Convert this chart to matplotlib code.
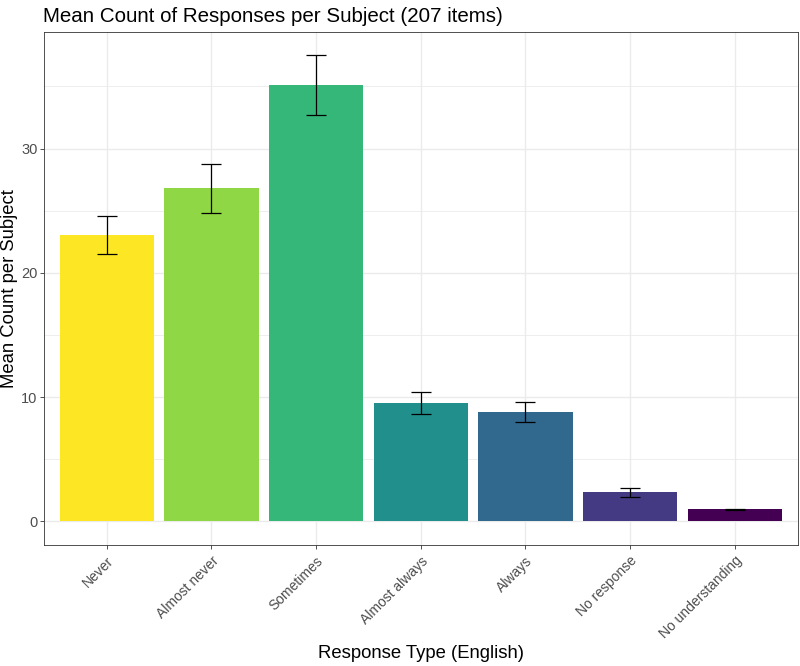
import matplotlib
matplotlib.use("Agg")
import matplotlib.pyplot as plt
import numpy as np

# data
categories = ["Never", "Almost never", "Sometimes", "Almost always",
              "Always", "No response", "No understanding"]
means = [23.05, 26.8, 35.1, 9.5, 8.8, 2.35, 0.97]
errors = [1.53, 1.95, 2.4, 0.88, 0.83, 0.35, 0.02]
colors = ["#FDE725", "#8FD744", "#35B779", "#21908C",
          "#31688E", "#443A83", "#440154"]

plt.rcParams["font.family"] = ["Liberation Sans", "DejaVu Sans"]

fig = plt.figure(figsize=(8, 6.66), dpi=100)
ax = fig.add_axes([0.055, 0.182, 0.942, 0.770])

x = np.arange(len(categories))
ax.bar(x, means, width=0.9, color=colors, zorder=2)
ax.errorbar(x, means, yerr=errors, fmt="none", ecolor="black",
            elinewidth=0.9, capsize=7.2, capthick=0.9, zorder=3)

# ggplot-like limits / expansion
ymax = max(m + e for m, e in zip(means, errors))
ax.set_xlim(-0.6, len(categories) - 0.4)
ax.set_ylim(-0.05 * ymax, ymax * 1.05)

ax.set_yticks([0, 10, 20, 30])
ax.set_yticks([5, 15, 25, 35], minor=True)
ax.set_xticks(x)
ax.set_xticklabels(categories, rotation=45, ha="right", rotation_mode="anchor")

ax.grid(True, which="major", color="#EBEBEB", linewidth=1.0, zorder=0)
ax.grid(True, which="minor", axis="y", color="#EBEBEB", linewidth=0.6, zorder=0)
ax.set_axisbelow(True)

for s in ax.spines.values():
    s.set_color("#333333")
    s.set_linewidth(0.6)

ax.tick_params(axis="both", which="major", length=3, width=0.6, color="#333333",
               labelcolor="#4D4D4D", labelsize=10.5)
ax.tick_params(axis="y", pad=1.5)
ax.tick_params(axis="x", labelsize=10)
ax.tick_params(axis="both", which="minor", length=0)

ax.set_xlabel("Response Type (English)", fontsize=13.3)
ax.set_ylabel("Mean Count per Subject", fontsize=13.3)
ax.xaxis.set_label_coords(0.5, -0.196)
ax.yaxis.set_label_coords(-0.034, 0.5)
ax.set_title("Mean Count of Responses per Subject (207 items)", fontsize=14.8,
             loc="left", x=-0.001, pad=7)

fig.savefig("out.png", dpi=100)
